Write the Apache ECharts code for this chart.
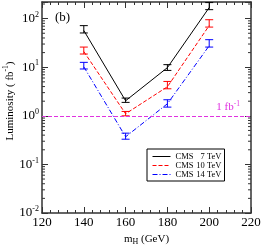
<!DOCTYPE html>
<html><head><meta charset="utf-8">
<script src="https://cdn.jsdelivr.net/npm/echarts@6/dist/echarts.min.js"></script>
<style>html,body{margin:0;padding:0;background:#fff}#c{width:261px;height:245px}</style>
</head><body><div id="c"></div>
<script>
// ---- data ----
const massGeV = [140, 160, 180, 200];
const lum7 = [57, 2.04, 9.8, 169];
const lum7Lo = [50.7, 1.89, 8.6, 153];
const lum7Hi = [71.8, 2.32, 11.3, 214];
const lum10 = [21, 1.1, 3.96, 72];
const lum10Lo = [18.7, 1.0, 3.6, 67];
const lum10Hi = [26, 1.23, 5.1, 95];
const lum14 = [10.2, 0.37, 1.77, 27.7];
const lum14Lo = [9.2, 0.33, 1.51, 26];
const lum14Hi = [12.6, 0.44, 2.14, 36.9];
const seriesNames = ['CMS   7 TeV', 'CMS  10 TeV', 'CMS  14 TeV'];
const refLumi = 1;
const xMin = 120, xMax = 220, yMin = 0.01, yMax = 220;

const FONT = '"Liberation Serif", "DejaVu Serif", serif';
const C7 = '#000000', C10 = '#ff0000', C14 = '#0000ff', CREF = '#e033e0';

// log minor tick values (2..9 per decade)
const minorVals = [];
for (let e = -2; e <= 2; e++) for (let m = 2; m <= 9; m++) { const v = m * Math.pow(10, e); if (v < yMax) minorVals.push([xMin, v]); }

const zip = (xs, ys) => xs.map((x, i) => [x, ys[i]]);
const zip3 = (xs, a, b) => xs.map((x, i) => [x, a[i], b[i]]);

function errRender(color) {
  return function (params, api) {
    const x = api.value(0), lo = api.value(1), hi = api.value(2);
    const p1 = api.coord([x, lo]), p2 = api.coord([x, hi]);
    const w = 4;
    const st = { stroke: color, lineWidth: 1 };
    return { type: 'group', children: [
      { type: 'line', shape: { x1: p1[0], y1: p1[1], x2: p2[0], y2: p2[1] }, style: st },
      { type: 'line', shape: { x1: p1[0] - w, y1: p1[1], x2: p1[0] + w, y2: p1[1] }, style: st },
      { type: 'line', shape: { x1: p2[0] - w, y1: p2[1], x2: p2[0] + w, y2: p2[1] }, style: st }
    ] };
  };
}

const axisLineStyle = { color: '#333', width: 1.5 };
const baseX = {
  type: 'value', min: xMin, max: xMax, interval: 20,
  axisLine: { show: true, onZero: false, lineStyle: axisLineStyle },
  axisTick: { show: true, inside: true, length: 6, lineStyle: { color: '#333', width: 1 } },
  minorTick: { show: true, splitNumber: 5, length: 3, lineStyle: { color: '#333', width: 1 } },
  splitLine: { show: false }, minorSplitLine: { show: false }
};
const baseY = {
  type: 'log', logBase: 10, min: yMin, max: yMax,
  axisLine: { show: true, onZero: false, lineStyle: axisLineStyle },
  axisTick: { show: true, inside: true, length: 6, lineStyle: { color: '#333', width: 1 } },
  splitLine: { show: false }
};

const chart = echarts.init(document.getElementById('c'), null, { renderer: 'canvas' });
chart.setOption({
  animation: false,
  backgroundColor: '#fff',
  grid: { left: 42, right: 10, top: 2, bottom: 32, containLabel: false, outerBoundsMode: 'none' },
  xAxis: [
    Object.assign({}, baseX, {
      position: 'bottom',
      axisLabel: { fontFamily: FONT, fontSize: 13, color: '#000', margin: 3 },
      name: '{m|m}{s|H}{m| (GeV)}', nameLocation: 'middle', nameGap: 17,
      nameTextStyle: { fontFamily: FONT, color: '#000', rich: {
        m: { fontFamily: FONT, fontSize: 11, color: '#000' },
        s: { fontFamily: FONT, fontSize: 8, color: '#000', padding: [6, 0, 0, 0] } } }
    }),
    Object.assign({}, baseX, { position: 'top', axisLabel: { show: false } })
  ],
  yAxis: [
    Object.assign({}, baseY, {
      position: 'left',
      axisLabel: {
        margin: 3, color: '#000',
        formatter: function (v) {
          const e = Math.log10(v);
          if (Math.abs(e - Math.round(e)) > 1e-6) return '';
          return '{b|10}{s|' + Math.round(e) + '}';
        },
        rich: {
          b: { fontFamily: FONT, fontSize: 13, color: '#000' },
          s: { fontFamily: FONT, fontSize: 8, color: '#000', padding: [0, 0, 8, 0] }
        }
      }
    }),
    Object.assign({}, baseY, { position: 'right', axisLabel: { show: false } })
  ],
  legend: {
    orient: 'vertical', left: 147, top: 149,
    padding: [3, 3, 2, 5], itemGap: 0, itemWidth: 18, itemHeight: 11,
    itemStyle: { opacity: 0 }, lineStyle: { width: 1 },
    borderColor: '#000', borderWidth: 1, borderRadius: 0, backgroundColor: '#fff',
    data: seriesNames,
    formatter: function (n) {
      const parts = n.split(/\s+/);
      return '{a|' + parts[0] + '}{b|' + parts[1] + ' ' + parts[2] + '}';
    },
    textStyle: { fontFamily: FONT, fontSize: 8.5, color: '#000', rich: {
      a: { fontFamily: FONT, fontSize: 8.5, color: '#000', width: 20 },
      b: { fontFamily: FONT, fontSize: 8.5, color: '#000', width: 26, align: 'right' } } }
  },
  graphic: [
    { type: 'text', left: 55, top: 11, style: { text: '(b)', fontFamily: FONT, fontSize: 13, fill: '#000' } },
    { type: 'text', x: 10, y: 101, rotation: Math.PI / 2,
      style: { text: '{t|Luminosity ( fb}{s|-1}{t|)}', align: 'center', verticalAlign: 'middle',
        rich: { t: { fontFamily: FONT, fontSize: 11, fill: '#000' },
                s: { fontFamily: FONT, fontSize: 7.5, fill: '#000', padding: [0, 0, 7, 0] } } } }
  ],
  series: [
    { name: seriesNames[0], type: 'line', data: zip(massGeV, lum7), symbol: 'none',
      lineStyle: { color: C7, width: 1, type: 'solid' }, itemStyle: { color: C7 },
      markLine: { silent: true, symbol: 'none', data: [{ yAxis: refLumi }],
        lineStyle: { color: CREF, width: 1, type: [4, 2] },
        label: { position: 'insideEndTop', distance: [11, 1], formatter: '{t|1 fb}{s|-1}',
          rich: { t: { fontFamily: FONT, fontSize: 11, color: CREF },
                  s: { fontFamily: FONT, fontSize: 7.5, color: CREF, padding: [0, 0, 7, 0] } } } } },
    { name: seriesNames[1], type: 'line', data: zip(massGeV, lum10), symbol: 'none',
      lineStyle: { color: C10, width: 1, type: [4, 2] }, itemStyle: { color: C10 } },
    { name: seriesNames[2], type: 'line', data: zip(massGeV, lum14), symbol: 'none',
      lineStyle: { color: C14, width: 1, type: [5, 2, 1, 2] }, itemStyle: { color: C14 } },
    { type: 'custom', renderItem: errRender(C7), data: zip3(massGeV, lum7Lo, lum7Hi), silent: true, z: 3 },
    { type: 'custom', renderItem: errRender(C10), data: zip3(massGeV, lum10Lo, lum10Hi), silent: true, z: 3 },
    { type: 'custom', renderItem: errRender(C14), data: zip3(massGeV, lum14Lo, lum14Hi), silent: true, z: 3 },
    { type: 'custom', silent: true, data: minorVals, z: 4,
      renderItem: function (params, api) {
        const p = api.coord([api.value(0), api.value(1)]);
        const cs = params.coordSys;
        const st = { stroke: '#333', lineWidth: 1 };
        return { type: 'group', children: [
          { type: 'line', shape: { x1: cs.x, y1: p[1], x2: cs.x + 3, y2: p[1] }, style: st },
          { type: 'line', shape: { x1: cs.x + cs.width - 3, y1: p[1], x2: cs.x + cs.width, y2: p[1] }, style: st }
        ] };
      } }
  ]
});
</script></body></html>
